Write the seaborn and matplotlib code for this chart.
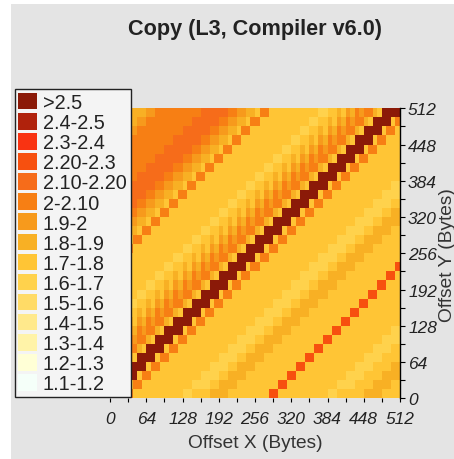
import matplotlib
matplotlib.use("Agg")
import matplotlib.pyplot as plt
import seaborn as sns
import numpy as np
from matplotlib.colors import ListedColormap
from matplotlib.patches import Patch, Rectangle

# Legend bins, lowest first
bin_labels = ["1.1-1.2", "1.2-1.3", "1.3-1.4", "1.4-1.5", "1.5-1.6",
              "1.6-1.7", "1.7-1.8", "1.8-1.9", "1.9-2", "2-2.10",
              "2.10-2.20", "2.20-2.3", "2.3-2.4", "2.4-2.5", ">2.5"]
bin_colors = ["#F5FFF9", "#FFFFD6", "#FFF3A8", "#FFE98C", "#FFDB66",
              "#FFD24C", "#FFC535", "#F8B024", "#F79A1C", "#F77F14",
              "#F66C1A", "#F7500F", "#F93312", "#B0220C", "#8B1A08"]

# Bandwidth bin per cell (hex digit = bin number), top row first.
# Rows are 16 bytes high, columns 8 bytes wide.
rows = [
    "77 77 77 77 88 99 99 99 99 99 aa aa aa 99 88 77 69 96 66 66 66 66 66 55 66 76 87 98 99 76 ee ee",
    "77 77 77 88 99 99 99 99 99 aa aa aa 99 88 77 69 96 66 66 66 66 66 55 66 76 87 98 99 76 ee ee 69",
    "77 77 88 99 99 99 99 99 aa aa aa 99 88 77 69 96 66 66 66 66 66 55 66 76 87 98 99 76 ee ee 69 96",
    "77 88 99 99 99 99 99 aa aa aa 99 88 77 69 96 66 66 66 66 66 55 66 76 87 98 99 76 ee ee 69 96 66",
    "88 99 99 99 99 99 aa aa aa 99 88 77 69 96 66 66 66 66 66 55 66 76 87 98 99 76 ee ee 69 96 66 66",
    "99 99 99 99 99 aa aa aa 99 88 77 69 96 66 66 66 66 66 55 66 76 87 98 99 76 ee ee 69 96 66 66 66",
    "99 99 99 99 aa aa aa 99 88 77 69 96 66 66 66 66 66 55 66 76 87 98 99 76 ee ee 69 96 66 66 66 66",
    "99 99 99 aa aa aa 99 88 77 69 96 66 66 66 66 66 55 66 76 87 98 99 76 ee ee 69 96 66 66 66 66 66",
    "99 99 aa aa aa 99 88 77 69 96 66 66 66 66 66 55 66 76 87 98 99 76 ee ee 69 96 66 66 66 66 66 55",
    "99 aa aa aa 99 88 77 69 96 66 66 66 66 66 55 66 76 87 98 99 76 ee ee 69 96 66 66 66 66 66 55 55",
    "aa aa aa 99 88 77 69 96 66 66 66 66 66 55 66 76 87 98 99 76 ee ee 69 96 66 66 66 66 66 55 55 66",
    "aa aa 99 88 77 69 96 66 66 66 66 66 55 66 76 87 98 99 76 ee ee 69 96 66 66 66 66 66 55 55 66 77",
    "aa 99 88 77 69 96 66 66 66 66 66 55 66 76 87 98 99 76 ee ee 69 96 66 66 66 66 66 55 55 66 77 77",
    "99 88 77 69 96 66 66 66 66 66 55 66 76 87 98 99 76 ee ee 69 96 66 66 66 66 66 55 55 66 77 77 66",
    "88 77 69 96 66 66 66 66 66 55 66 76 87 98 99 76 ee ee 69 96 66 66 66 66 66 55 55 66 77 77 66 66",
    "77 69 96 66 66 66 66 66 55 66 76 87 98 99 76 ee ee 69 96 66 66 66 66 66 55 55 66 77 77 66 66 66",
    "69 96 66 66 66 66 66 55 66 76 87 98 99 76 ee ee 69 96 66 66 66 66 66 55 55 66 77 77 66 66 66 66",
    "96 66 66 66 66 66 55 66 76 87 98 99 76 ee ee 69 96 66 66 66 66 66 55 55 66 77 77 66 66 66 66 6b",
    "66 66 66 66 66 55 66 76 87 98 99 76 ee ee 69 96 66 66 66 66 66 55 55 66 77 77 66 66 66 66 6b b6",
    "66 66 66 66 55 66 76 87 98 99 76 ee ee 69 96 66 66 66 66 66 55 55 66 77 77 66 66 66 66 6b b6 66",
    "66 66 66 55 66 76 87 98 99 76 ee ee 69 96 66 66 66 66 66 55 55 66 77 77 66 66 66 66 6b b6 66 66",
    "66 66 55 66 76 87 98 99 76 ee ee 69 96 66 66 66 66 66 55 55 66 77 77 66 66 66 66 6b b6 66 66 66",
    "66 55 66 76 87 98 99 76 ee ee 69 96 66 66 66 66 66 55 55 66 77 77 66 66 66 66 6b b6 66 66 66 66",
    "55 66 76 87 98 99 76 ee ee 69 96 66 66 66 66 66 55 55 66 77 77 66 66 66 66 6b b6 66 66 66 66 66",
    "66 76 87 98 99 76 ee ee 69 96 66 66 66 66 66 55 55 66 77 77 66 66 66 66 6b b6 66 66 66 66 66 55",
    "76 87 98 99 76 ee ee 69 96 66 66 66 66 66 55 55 66 77 77 66 66 66 66 6b b6 66 66 66 66 66 55 55",
    "87 98 99 76 ee ee 69 96 66 66 66 66 66 55 55 66 77 77 66 66 66 66 6b b6 66 66 66 66 66 55 55 66",
    "98 99 76 ee ee 69 96 66 66 66 66 66 55 55 66 77 77 66 66 66 66 6b b6 66 66 66 66 66 55 55 66 66",
    "99 76 ee ee 69 96 66 66 66 66 66 55 55 66 77 77 66 66 66 66 6b b6 66 66 66 66 66 55 55 66 66 77",
    "76 ee ee 69 96 66 66 66 66 66 55 55 66 77 77 66 66 66 66 6b b6 66 66 66 66 66 55 55 66 66 77 77",
    "ee ee 69 96 66 66 66 66 66 55 55 66 77 77 66 66 66 66 6b b6 66 66 66 66 66 55 55 66 66 77 77 66",
    "ee 69 96 66 66 66 66 66 55 66 66 77 77 66 66 66 66 6b b6 66 66 66 66 66 55 66 66 66 77 77 66 66",
]
x_labeled = [0, 64, 128, 192, 256, 320, 384, 448, 512]
x_minor = [32, 96, 160, 224, 288, 352, 416, 480]
y_labeled = [0, 64, 128, 192, 256, 320, 384, 448, 512]
y_minor = [32, 96, 160, 224, 288, 352, 416, 480]

W, H = 454, 460
plt.rcParams['font.family'] = ['Liberation Sans', 'DejaVu Sans']

# bin number -> middle of that bin
grid = np.array([[int(c, 16) * 0.1 + 1.15 for c in r.replace(" ", "")] for r in rows])

fig = plt.figure(figsize=(W / 100, H / 100), dpi=100, facecolor='white')
fig.add_artist(Rectangle((11 / W, 0), 1 - 11 / W, 1 - 5 / H, transform=fig.transFigure,
                         facecolor='#E4E4E4', edgecolor='none', zorder=-5))
ax = fig.add_axes([110 / W, 1 - 399.3 / H, 290 / W, 290 / H])
sns.heatmap(grid, ax=ax, cmap=ListedColormap(bin_colors), vmin=1.1, vmax=2.6,
            cbar=False, square=False, linewidths=0)

ax.yaxis.tick_right()
ax.set_xticks([v / 8 for v in x_labeled])
ax.set_xticklabels([str(v) for v in x_labeled], rotation=0, style='italic', fontsize=12.5, color='#222222')
ax.set_xticks([v / 8 for v in x_minor], minor=True)
ax.set_yticks([(512 - v) / 16 for v in y_labeled])
ax.set_yticklabels([str(v) for v in y_labeled], rotation=0, style='italic', fontsize=12.5, color='#222222')
ax.set_yticks([(512 - v) / 16 for v in y_minor], minor=True)
ax.tick_params(axis='x', which='both', length=2.8, width=0.8, color='black', pad=6)
ax.tick_params(axis='y', which='both', length=3.8, width=0.8, color='black', pad=2)
ax.spines['right'].set_visible(True)
ax.spines['right'].set_linewidth(1.0)

handles = [Patch(facecolor=c, edgecolor='none', label=l)
           for c, l in zip(bin_colors[::-1], bin_labels[::-1])]
ax.legend(handles=handles, loc='upper left', bbox_to_anchor=(14.5 / W, 1 - 90 / H),
          bbox_transform=fig.transFigure, borderaxespad=0, fontsize=14.3, frameon=True,
          fancybox=False, framealpha=1, facecolor='#F4F4F4', edgecolor='#222222',
          handlelength=0.93, handleheight=0.9, handletextpad=0.3, labelspacing=0.05,
          borderpad=0.2, labelcolor='#222222').set_zorder(5)

fig.text(255 / W, 1 - 29 / H, "Copy (L3, Compiler v6.0)", ha='center', va='center',
         fontsize=15.6, fontweight='bold', color='#222222')
fig.text(255 / W, 1 - 444 / H, "Offset X (Bytes)", ha='center', va='center',
         fontsize=13.8, color='#333333')
fig.text(447 / W, 1 - 255 / H, "Offset Y (Bytes)", ha='center', va='center',
         rotation=90, fontsize=13.8, color='#333333')

fig.savefig("out.png", dpi=100)
